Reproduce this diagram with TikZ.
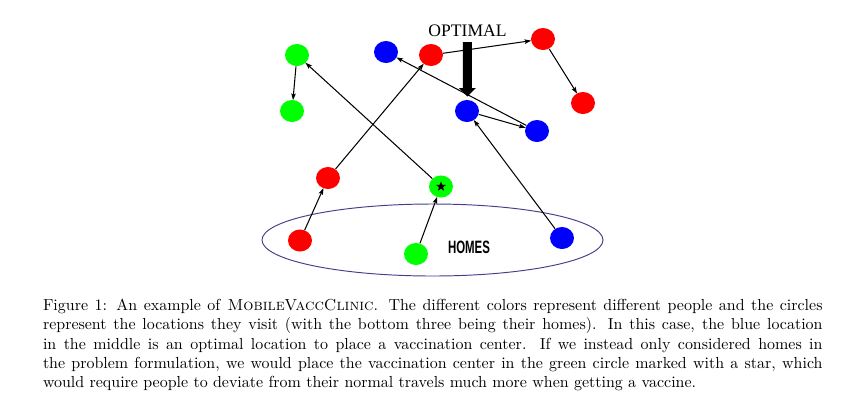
\documentclass[tikz,border=0pt]{standalone}
\usepackage{fontspec}
\usetikzlibrary{arrows.meta,shapes.geometric,calc}
\newfontfamily\optfont{Liberation Serif}
\newfontfamily\homesfont{Liberation Sans}
\definecolor{pred}{RGB}{255,0,0}
\definecolor{pgreen}{RGB}{0,255,0}
\definecolor{pblue}{RGB}{0,0,255}
\definecolor{homeline}{RGB}{72,61,139}
\begin{document}
\begin{tikzpicture}[x=0.626pt,y=-0.626pt,
  loc/.style={ellipse,minimum width=15pt,minimum height=13.8pt,inner sep=0pt},
  rloc/.style={loc,fill=pred},
  gloc/.style={loc,fill=pgreen},
  bloc/.style={loc,fill=pblue},
  trip/.style={line width=0.65pt,-{Stealth[length=4.2pt,width=2.8pt,inset=0.8pt]},shorten >=-0.3pt},
]
\useasboundingbox (0,0) rectangle (868,416);
% homes region
\node[draw=homeline,line width=0.6pt,ellipse,minimum width=341*0.626pt,minimum height=72*0.626pt,inner sep=0pt] (homes) at (432.5,240) {};
\node[font=\homesfont\bfseries\fontsize{11.2}{13}\selectfont,xscale=0.64,inner sep=0pt] (homeslabel) at (469,247.5) {HOMES};
% locations
\node[gloc] (g1) at (297,55) {};
\node[gloc] (g2) at (292,111) {};
\node[bloc] (b1) at (386,52) {};
\node[rloc] (r1) at (431,55) {};
\node[rloc] (r2) at (543,39) {};
\node[rloc] (r3) at (583,103) {};
\node[bloc] (b2) at (467,111) {};
\node[bloc] (b3) at (537,131) {};
\node[rloc] (r4) at (328,178) {};
\node[gloc] (gs) at (441,186.5) {};
\node[star,star points=5,star point ratio=2.4,fill=black,minimum size=6.5pt,inner sep=0pt] (star) at (441,186.5) {};
\node[rloc] (rh) at (300,240.5) {};
\node[gloc] (gh) at (416,254) {};
\node[bloc] (bh) at (562,238) {};
% optimal label and thick arrow
\node[font=\optfont\fontsize{11}{13}\selectfont,inner sep=0pt] (opt) at (467.5,31) {OPTIMAL};
\coordinate (optA) at (467.3,42);
\coordinate (optB) at (467.3,88);
\fill[black] ($(optA)+(-4.5,0)$) -- ($(optA)+(4.5,0)$) -- ($(optB)+(4.5,0)$) -- ($(optB)+(8.5,0)$) -- ($(optB)+(0,8.5)$) -- ($(optB)+(-8.5,0)$) -- ($(optB)+(-4.5,0)$) -- cycle;
% trips
\draw[trip] (g1) -- (g2);
\draw[trip] (gs) -- (g1);
\draw[trip] (gh) -- (gs);
\draw[trip] (rh) -- (r4);
\draw[trip] (r4) -- (r1);
\draw[trip] (r1) -- (r2);
\draw[trip] (r2) -- (r3);
\draw[trip] (bh) -- (b2);
\draw[trip] (b2) -- (b3);
\draw[trip] (b3) -- (b1);
% caption
\node[anchor=north west,inner sep=0pt,text width=488pt,align=justify,font=\fontsize{10}{12}\selectfont] (caption) at (42.7,299) {Figure 1: An example of \textsc{MobileVaccClinic}. The different colors represent different people and the circles\linebreak represent the locations they visit (with the bottom three being their homes). In this case, the blue location\linebreak in the middle is an optimal location to place a vaccination center. If we instead only considered homes in\linebreak the problem formulation, we would place the vaccination center in the green circle marked with a star, which\linebreak would require people to deviate from their normal travels much more when getting a vaccine.};
\end{tikzpicture}
\end{document}
